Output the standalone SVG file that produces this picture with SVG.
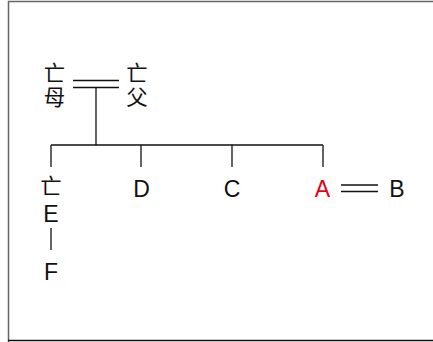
<svg xmlns="http://www.w3.org/2000/svg" width="433" height="342" viewBox="0 0 433 342">
<style>
.t{font-family:"Liberation Sans","Noto Sans CJK SC",sans-serif;font-size:23px;fill:#111;text-anchor:middle}
.c{font-family:"Liberation Sans","Noto Sans CJK SC",sans-serif;font-size:21.4px;fill:#111;text-anchor:middle}
.l{stroke:#111;stroke-width:1.3;fill:none}
</style>
<rect width="433" height="342" fill="#fff"/>
<path d="M8.5 342V1.5H433" stroke="#666" stroke-width="1.5" fill="none"/>
<path d="M8 340.5H433" stroke="#111" stroke-width="1.5"/>
<g id="connectors" class="l">
<path d="M73 80.5H119M73 87.5H119"/>
<path d="M96 88V145M51 145H323M51 145V167M141 145V167M232 145V167M323 145V167"/>
<path d="M51 228V250"/>
<path d="M341 185H378M341 191.5H378"/>
</g>
<g id="mother"><text class="c" x="54.5" y="81">亡<tspan x="54.5" dy="24">母</tspan></text></g>
<g id="father"><text class="c" x="137" y="81">亡<tspan x="137" dy="24">父</tspan></text></g>
<g id="E"><text class="c" x="51" y="194">亡</text><text class="t" x="51" y="222">E</text></g>
<g id="F"><text class="t" x="51" y="280">F</text></g>
<g id="D"><text class="t" x="141.5" y="197">D</text></g>
<g id="C"><text class="t" x="232" y="197">C</text></g>
<g id="A"><text class="t" x="322.5" y="197" style="fill:#e60012">A</text></g>
<g id="B"><text class="t" x="397" y="197">B</text></g>
</svg>
